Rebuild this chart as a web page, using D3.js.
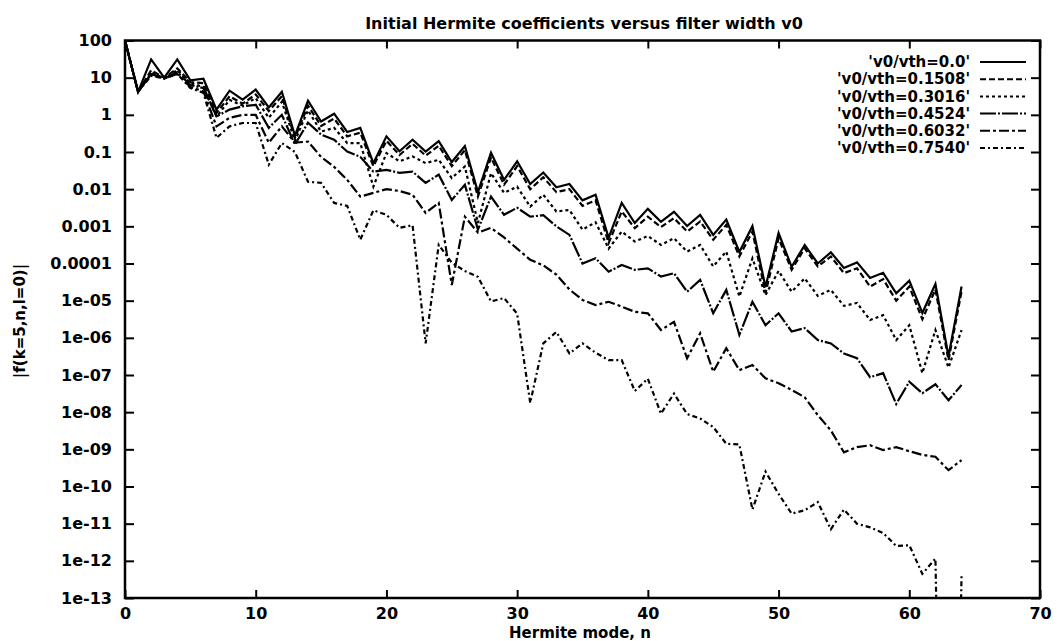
<!DOCTYPE html>
<html>
<head>
<meta charset="utf-8">
<script src="https://cdn.jsdelivr.net/npm/d3@7"></script>
<style>
  body { margin: 0; background: #fff; }
  svg text { font-family: "DejaVu Sans", sans-serif; font-weight: bold; fill: #000; }
</style>
</head>
<body>
<div id="chart"></div>
<script>
// Hermite mode index n = 0..64
const modes = d3.range(0, 65);

// log10 of |f(k=5,n,l=0)|, one array per filter width
const logV0_0000 = [2.0, 0.62, 1.49, 1.0, 1.49, 0.93, 0.97, 0.14, 0.65, 0.41,
  0.68, 0.2, 0.62, -0.56, 0.38, -0.18, 0.03, -0.46, -0.35, -1.3,
  -0.58, -0.98, -0.67, -0.99, -0.71, -1.27, -0.84, -2.08, -1.02, -1.75,
  -1.25, -1.86, -1.55, -1.95, -1.86, -2.3, -2.15, -3.31, -2.37, -2.91,
  -2.53, -2.88, -2.61, -2.99, -2.69, -3.23, -2.82, -3.69, -2.99, -4.63,
  -3.18, -4.09, -3.5, -4.0, -3.7, -4.12, -3.97, -4.39, -4.25, -4.8,
  -4.46, -5.33, -4.55, -6.5, -4.62];
const logV0_1508 = [2.0, 0.62, 1.2, 1.0, 1.25, 0.88, 0.85, 0.05, 0.5, 0.3,
  0.55, 0.1, 0.5, -0.62, 0.25, -0.3, -0.1, -0.58, -0.48, -1.38,
  -0.7, -1.08, -0.78, -1.1, -0.83, -1.38, -0.95, -2.2, -1.15, -1.88,
  -1.38, -2.0, -1.68, -2.08, -2.0, -2.45, -2.3, -3.45, -2.6, -3.05,
  -2.74, -3.02, -2.78, -3.14, -2.87, -3.36, -2.96, -3.81, -3.14, -4.8,
  -3.32, -4.17, -3.59, -4.08, -3.81, -4.26, -4.13, -4.62, -4.42, -5.0,
  -4.62, -5.5, -4.7, -6.6, -4.75];
const logV0_3016 = [2.0, 0.62, 1.15, 0.98, 1.2, 0.85, 0.75, -0.05, 0.4, 0.25,
  0.45, -0.08, 0.35, -0.7, 0.12, -0.45, -0.35, -0.76, -0.76, -1.93,
  -1.03, -1.25, -1.12, -1.3, -1.21, -1.7, -1.39, -2.91, -1.57, -2.1,
  -1.93, -2.47, -2.15, -2.6, -2.56, -3.09, -2.89, -3.6, -3.14, -3.41,
  -3.26, -3.5, -3.32, -3.68, -3.5, -4.08, -3.68, -4.89, -3.86, -4.85,
  -4.2, -4.76, -4.4, -4.87, -4.71, -5.14, -5.06, -5.52, -5.39, -6.06,
  -5.66, -6.95, -5.79, -6.8, -5.79];
const logV0_4524 = [2.0, 0.62, 1.1, 0.98, 1.15, 0.8, 0.72, -0.04, 0.14, 0.23,
  0.27, -0.35, 0.0, -0.8, -0.21, -0.53, -0.67, -0.99, -1.13, -1.53,
  -1.48, -1.56, -1.53, -1.83, -1.61, -2.29, -1.88, -3.09, -2.2, -2.69,
  -2.5, -2.74, -2.7, -3.0, -3.23, -4.0, -3.86, -4.22, -4.04, -4.17,
  -4.13, -4.35, -4.26, -4.76, -4.44, -5.34, -4.71, -5.92, -5.03, -5.66,
  -5.34, -5.83, -5.74, -6.06, -6.15, -6.42, -6.55, -7.06, -6.95, -7.78,
  -7.18, -7.49, -7.25, -7.68, -7.27];
const logV0_6032 = [2.0, 0.62, 1.1, 0.98, 1.1, 0.75, 0.63, -0.31, -0.08, 0.0,
  0.0, -0.75, -0.31, -0.75, -0.72, -1.13, -1.4, -1.75, -2.2, -2.1,
  -2.0, -2.05, -2.15, -2.64, -2.37, -4.58, -2.74, -3.17, -3.04, -3.3,
  -3.6, -3.9, -4.05, -4.3, -4.7, -4.98, -5.12, -5.03, -5.16, -5.3,
  -5.34, -5.79, -5.57, -6.55, -5.88, -6.91, -6.28, -6.87, -6.73, -7.09,
  -7.22, -7.4, -7.6, -8.08, -8.49, -9.08, -8.94, -8.89, -9.02, -8.94,
  -9.05, -9.15, -9.2, -9.56, -9.29];
const logV0_7540 = [2.0, 0.62, 1.05, 0.98, 1.1, 0.72, 0.59, -0.62, -0.31, -0.22,
  -0.22, -1.34, -0.76, -1.0, -1.8, -1.83, -2.37, -2.45, -3.36, -2.57,
  -2.69, -3.04, -2.97, -6.15, -3.5, -3.98, -4.2, -4.36, -5.02, -4.93,
  -5.35, -7.75, -6.15, -5.84, -6.42, -6.15, -6.4, -6.6, -6.6, -7.43,
  -7.1, -8.04, -7.5, -8.05, -8.17, -8.4, -8.85, -8.87, -10.62, -9.6,
  -10.2, -10.73, -10.64, -10.42, -11.15, -10.62, -11.0, -11.1, -11.25, -11.6,
  -11.58, -12.35, -11.94, -30, -12.35];

const seriesNames = ["'v0/vth=0.0'", "'v0/vth=0.1508'", "'v0/vth=0.3016'",
  "'v0/vth=0.4524'", "'v0/vth=0.6032'", "'v0/vth=0.7540'"];
const seriesLogs = [logV0_0000, logV0_1508, logV0_3016, logV0_4524, logV0_6032, logV0_7540];
const dashes = ["none", "6,3", "3,3", "16,2,2,2", "10,3,3,3", "5,3,2,3"];

const xTicks = [0, 10, 20, 30, 40, 50, 60, 70];
const yTicks = [1e2, 1e1, 1, 1e-1, 1e-2, 1e-3, 1e-4, 1e-5, 1e-6, 1e-7, 1e-8, 1e-9, 1e-10, 1e-11, 1e-12, 1e-13];
const yTickLabels = ["100", "10", "1", "0.1", "0.01", "0.001", "0.0001", "1e-05", "1e-06",
  "1e-07", "1e-08", "1e-09", "1e-10", "1e-11", "1e-12", "1e-13"];

let margin = { top: 40.5, right: 19, bottom: 43, left: 125 };
let width = 1059 - margin.left - margin.right;
let height = 641 - margin.top - margin.bottom;

let svg = d3.select("#chart")
  .append("svg")
  .attr("width", 1059)
  .attr("height", 641)
  .append("g")
  .attr("transform", `translate(${margin.left}, ${margin.top})`);

let x = d3.scaleLinear().domain([0, 70]).range([0, width]);
let y = d3.scaleLog().domain([1e-13, 100]).range([height, 0]);

svg.append("clipPath")
  .attr("id", "plotArea")
  .append("rect")
  .attr("width", width)
  .attr("height", height);

// inward ticks on all four sides, gnuplot style
let yAxis = svg.append("g")
  .call(d3.axisLeft(y).tickValues(yTicks).tickSize(-9).tickPadding(13)
    .tickFormat((d, i) => yTickLabels[i]));
svg.append("g")
  .attr("transform", `translate(${width}, 0)`)
  .call(d3.axisRight(y).tickValues(yTicks).tickSize(-9).tickFormat(""));
let xAxis = svg.append("g")
  .attr("transform", `translate(0, ${height})`)
  .call(d3.axisBottom(x).tickValues(xTicks).tickSize(-8).tickPadding(10));
svg.append("g")
  .call(d3.axisTop(x).tickValues(xTicks).tickSize(-8).tickFormat(""));

svg.selectAll(".domain").remove();
svg.selectAll(".tick line").attr("stroke", "#000").attr("stroke-width", 2);
svg.selectAll(".tick text")
  .attr("font-family", "DejaVu Sans")
  .attr("font-weight", "bold")
  .attr("font-size", 16);

// data lines
let line = d3.line()
  .x((d, i) => x(modes[i]))
  .y(d => y(Math.pow(10, d)));

svg.append("g")
  .attr("clip-path", "url(#plotArea)")
  .selectAll("path")
  .data(seriesLogs)
  .join("path")
  .attr("d", line)
  .attr("fill", "none")
  .attr("stroke", "#000")
  .attr("stroke-width", 2.2)
  .attr("stroke-linejoin", "miter")
  .attr("stroke-dasharray", (d, i) => dashes[i]);

// frame
svg.append("rect")
  .attr("width", width)
  .attr("height", height)
  .attr("fill", "none")
  .attr("stroke", "#000")
  .attr("stroke-width", 2.5);

// legend
let legend = svg.append("g")
  .selectAll("g")
  .data(seriesNames)
  .join("g")
  .attr("transform", (d, i) => `translate(0, ${21.5 + i * 17.2})`);

legend.append("text")
  .attr("x", 845)
  .attr("dy", "0.35em")
  .attr("text-anchor", "end")
  .attr("font-size", 15)
  .text(d => d);

legend.append("line")
  .attr("x1", 855)
  .attr("x2", 901)
  .attr("stroke", "#000")
  .attr("stroke-width", 2)
  .attr("stroke-dasharray", (d, i) => dashes[i]);

// titles
svg.append("text")
  .attr("x", 584 - margin.left)
  .attr("y", 29 - margin.top)
  .attr("text-anchor", "middle")
  .attr("font-size", 16)
  .text("Initial Hermite coefficients versus filter width v0");

svg.append("text")
  .attr("x", 580 - margin.left)
  .attr("y", 638 - margin.top)
  .attr("text-anchor", "middle")
  .attr("font-size", 15)
  .text("Hermite mode, n");

svg.append("text")
  .attr("transform", `translate(${25 - margin.left}, ${321 - margin.top}) rotate(-90)`)
  .attr("text-anchor", "middle")
  .attr("font-size", 15)
  .text("|f(k=5,n,l=0)|");
</script>
</body>
</html>
